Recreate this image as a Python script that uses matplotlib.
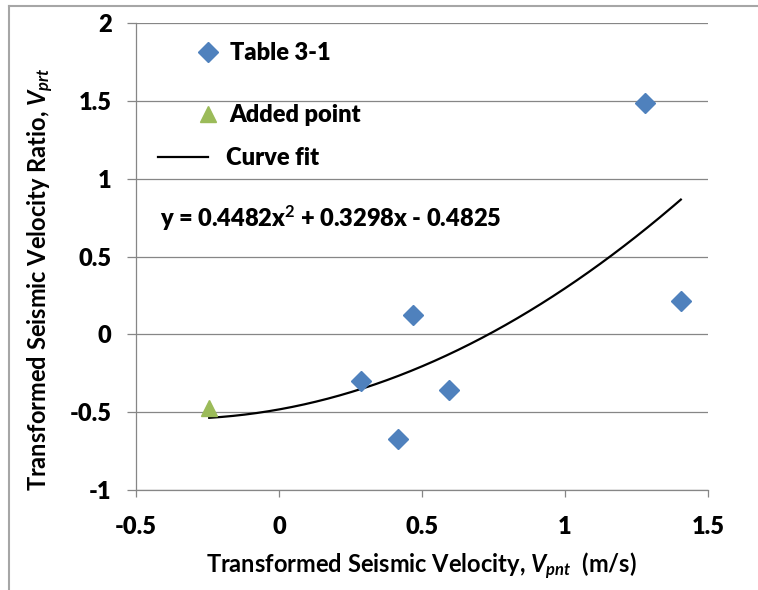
import numpy as np
import matplotlib
matplotlib.use("Agg")
import matplotlib.pyplot as plt
from matplotlib.lines import Line2D
from matplotlib import font_manager as fm

# ---- data ----
table_x = [1.28, 1.405, 0.467, 0.594, 0.416, 0.286]
table_y = [1.487, 0.214, 0.123, -0.357, -0.672, -0.297]
added_x = [-0.244]
added_y = [-0.475]
fit_coeffs = [0.4482, 0.3298, -0.4825]
x_ticks = [-0.5, 0, 0.5, 1, 1.5]
x_ticklabels = ["-0.5", "0", "0.5", "1", "1.5"]
y_ticks = [-1, -0.5, 0, 0.5, 1, 1.5, 2]
y_ticklabels = ["-1", "-0.5", "0", "0.5", "1", "1.5", "2"]

plt.rcParams['font.family'] = 'Lato'
plt.rcParams['mathtext.fontset'] = 'custom'
plt.rcParams['mathtext.rm'] = 'Lato:bold'
plt.rcParams['mathtext.bf'] = 'Lato:bold'
plt.rcParams['mathtext.it'] = 'Lato:italic:bold'

FS = 17
bold_path = fm.findfont(fm.FontProperties(family='Lato', weight='bold'))
heavy_path = fm.findfont(fm.FontProperties(family='Lato', weight=800))
fp = fm.FontProperties(fname=bold_path, size=FS)
fph = fm.FontProperties(fname=heavy_path, size=FS)

fig = plt.figure(figsize=(7.58, 5.90), dpi=100)
ax = fig.add_axes([136/758, 1-490/590, (708-136)/758, (490-23)/590])

grid_c = '#868686'
for yt in y_ticks:
    ax.axhline(yt, color=grid_c, lw=0.9, zorder=0)

ax.plot(table_x, table_y, ls='none', marker='D', ms=10.5, color='#4F81BD',
        mec='#4F81BD', label='Table 3-1', zorder=3)
ax.plot(added_x, added_y, ls='none', marker='^', ms=12, color='#9BBB59',
        mec='#9BBB59', label='Added point', zorder=3)

all_x = np.array(table_x + added_x)
xs = np.linspace(all_x.min(), all_x.max(), 200)
ax.plot(xs, np.polyval(fit_coeffs, xs), color='black', lw=1.6,
        label='Curve fit', zorder=2)

ax.set_xlim(-0.5, 1.5)
ax.set_ylim(-1, 2)
for s in ['top', 'right']:
    ax.spines[s].set_visible(False)
for s in ['left', 'bottom']:
    ax.spines[s].set_color(grid_c)
    ax.spines[s].set_linewidth(0.9)
ax.tick_params(axis='x', length=5, width=0.9, color=grid_c, pad=14)
ax.tick_params(axis='y', length=6.5, width=0.9, color=grid_c, pad=11)
ax.set_xticks(x_ticks)
ax.set_xticklabels(x_ticklabels, fontproperties=fph)
ax.set_yticks(y_ticks)
ax.set_yticklabels(y_ticklabels, fontproperties=fph)

ax.set_xlabel(r'Transformed Seismic Velocity, $V_{pnt}$  (m/s)',
              fontproperties=fp, labelpad=9)
ax.set_ylabel(r'Transformed Seismic Velocity Ratio, $V_{prt}$',
              fontproperties=fp)
ax.yaxis.set_label_coords(-0.140, 0.452)

h = ax.get_lines()
n = len(y_ticks)
handles = h[n:]
common = dict(frameon=False, prop=fph, borderpad=0, borderaxespad=0,
              loc='center left', numpoints=1)
leg1 = ax.legend([handles[0]], ['Table 3-1'], bbox_to_anchor=(0.1058, 0.936),
                 handlelength=1.0, handletextpad=0.4, **common)
ax.add_artist(leg1)
leg2 = ax.legend([handles[1]], ['Added point'], bbox_to_anchor=(0.1058, 0.803),
                 handlelength=1.0, handletextpad=0.4, **common)
ax.add_artist(leg2)
leg3 = ax.legend([handles[2]], ['Curve fit'], bbox_to_anchor=(0.0385, 0.711),
                 handlelength=2.12, handletextpad=0.76, **common)

ax.text(0.042, 0.5825, r'y = 0.4482x$^2$ + 0.3298x - 0.4825',
        transform=ax.transAxes, fontproperties=fph, va='center', ha='left')

# figure border
bc = '#A6A6A6'
fig.add_artist(Line2D([9/758, 1.0], [1-6/590, 1-6/590], color=bc, lw=1.5,
                      transform=fig.transFigure))
fig.add_artist(Line2D([9/758, 9/758], [0, 1-6/590], color=bc, lw=1.5,
                      transform=fig.transFigure))

fig.savefig('out.png', dpi=100)
